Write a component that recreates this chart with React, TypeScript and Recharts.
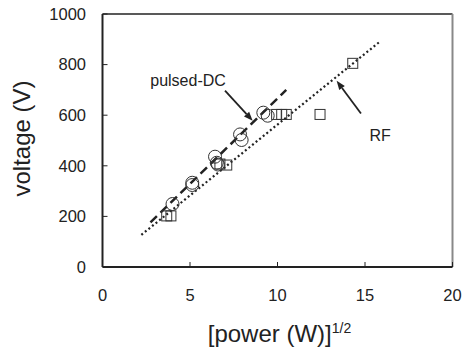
import {
  ComposedChart,
  Scatter,
  Line,
  XAxis,
  YAxis,
  ReferenceLine,
  ReferenceDot,
} from "recharts";

// pulsed-DC measurements (circles)
const dcPower = [4.0, 5.13, 5.13, 6.43, 6.53, 6.6, 7.86, 7.95, 9.19, 9.44];
const dcVoltage = [249, 333, 324, 436, 412, 405, 524, 502, 610, 598];

// RF measurements (squares)
const rfPower = [3.67, 3.91, 6.71, 7.1, 9.95, 10.24, 10.5, 12.43, 14.3];
const rfVoltage = [202, 202, 407, 403, 603, 603, 603, 603, 805];

// fit lines, end points
const dcFitX = [2.74, 10.5];
const dcFitY = [176, 700];
const rfFitX = [2.22, 15.8];
const rfFitY = [127, 888];

const xTicks = [0, 5, 10, 15, 20];
const yTicks = [0, 200, 400, 600, 800, 1000];

const zip = (xs: number[], ys: number[]) => xs.map((x, i) => ({ x, y: ys[i] }));

const dcData = zip(dcPower, dcVoltage);
const rfData = zip(rfPower, rfVoltage);
const dcFit = zip(dcFitX, dcFitY);
const rfFit = zip(rfFitX, rfFitY);

const ink = "#222";
const font = "'Liberation Sans', Arial, sans-serif";

function CircleMark(props: any) {
  return <circle cx={props.cx} cy={props.cy} r={6.5} fill="none" stroke="#333" strokeWidth={1} />;
}

function SquareMark(props: any) {
  return (
    <rect x={props.cx - 5} y={props.cy - 5} width={10} height={10} fill="none" stroke="#333" strokeWidth={1} />
  );
}

// arrow drawn as a reference segment with a head at the second point
function Arrow(props: any) {
  const { x1, y1, x2, y2 } = props;
  const a = Math.atan2(y2 - y1, x2 - x1);
  const len = 9;
  const w = 3.5;
  const bx = x2 - len * Math.cos(a);
  const by = y2 - len * Math.sin(a);
  const px = -Math.sin(a) * w;
  const py = Math.cos(a) * w;
  return (
    <g>
      <line x1={x1} y1={y1} x2={bx} y2={by} stroke={ink} strokeWidth={1.8} />
      <polygon points={`${x2},${y2} ${bx + px},${by + py} ${bx - px},${by - py}`} fill={ink} />
    </g>
  );
}

function XLabel(props: any) {
  const vb = props.viewBox;
  const cx = vb.x + vb.width / 2;
  return (
    <text x={cx + 2} y={342} textAnchor="middle" fontSize={24} fill={ink} fontFamily={font}>
      [power (W)]
      <tspan fontSize={14} dy={-9}>
        1/2
      </tspan>
    </text>
  );
}

export default function App() {
  return (
    <div style={{ position: "absolute", left: 0, top: 0, background: "#fff" }}>
      <ComposedChart width={466} height={349} margin={{ top: 14, right: 13.5, left: 0, bottom: 0 }}>
        <XAxis
          type="number"
          dataKey="x"
          domain={[0, 20]}
          ticks={xTicks}
          height={82}
          stroke={ink}
          axisLine={{ stroke: ink, strokeWidth: 2 }}
          tickLine={{ stroke: ink, strokeWidth: 1 }}
          tickSize={-5}
          tickMargin={27}
          tick={{ fontSize: 16.5, fill: ink, fontFamily: font }}
          label={<XLabel />}
        />
        <YAxis
          type="number"
          dataKey="y"
          domain={[0, 1000]}
          ticks={yTicks}
          width={102.5}
          axisLine={{ stroke: ink, strokeWidth: 2 }}
          tickLine={{ stroke: ink, strokeWidth: 1 }}
          tickSize={-5}
          tickMargin={21.5}
          tick={{ fontSize: 16.5, fill: ink, fontFamily: font }}
          label={{
            value: "voltage (V)",
            angle: -90,
            position: "insideLeft",
            dx: 16,
            dy: -2,
            fontSize: 24,
            fill: ink,
            fontFamily: font,
            style: { textAnchor: "middle" },
          }}
        />
        <ReferenceLine y={1000} stroke={ink} strokeWidth={1.5} />
        <ReferenceLine x={20} stroke="#888" strokeWidth={2} />

        <Line
          data={dcFit}
          dataKey="y"
          stroke={ink}
          strokeWidth={2.5}
          strokeDasharray="9 5"
          dot={false}
          activeDot={false}
          isAnimationActive={false}
        />
        <Line
          data={rfFit}
          dataKey="y"
          stroke={ink}
          strokeWidth={2.2}
          strokeDasharray="2 2.6"
          dot={false}
          activeDot={false}
          isAnimationActive={false}
        />
        <Scatter data={dcData} shape={<CircleMark />} isAnimationActive={false} />
        <Scatter data={rfData} shape={<SquareMark />} isAnimationActive={false} />

        <ReferenceLine segment={[{ x: 7.0, y: 697 }, { x: 8.58, y: 578 }]} shape={<Arrow />} />
        <ReferenceLine segment={[{ x: 14.77, y: 607 }, { x: 13.38, y: 736 }]} shape={<Arrow />} />
        <ReferenceDot
          x={4.89}
          y={739}
          r={0}
          stroke="none"
          label={{ value: "pulsed-DC", position: "center", fontSize: 16, fill: ink, fontFamily: font }}
        />
        <ReferenceDot
          x={15.86}
          y={522}
          r={0}
          stroke="none"
          label={{ value: "RF", position: "center", fontSize: 16, fill: ink, fontFamily: font }}
        />
      </ComposedChart>
    </div>
  );
}
